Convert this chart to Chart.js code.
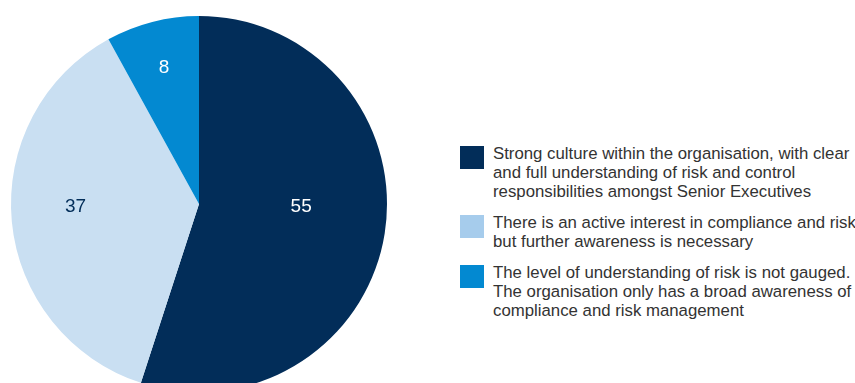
<!DOCTYPE html>
<html lang="en">
<head>
<meta charset="UTF-8">
<script src="https://cdn.jsdelivr.net/npm/chart.js"></script>
<style>
    html, body {
        margin: 0;
        padding: 0;
        width: 855px;
        height: 383px;
        overflow: hidden;
        background: #fff;
        font-family: "Liberation Sans", Arial, sans-serif;
    }

    .pie {
        position: absolute;
        left: 0;
        top: 0;
        width: 398px;
        height: 408px;
    }

    .legend {
        position: absolute;
        left: 460px;
        top: 146px;
        width: 395px;
    }

    .legend-item {
        display: flex;
        align-items: flex-start;
        margin-bottom: 14px;
    }

    .legend-box {
        width: 24px;
        height: 23px;
        flex: none;
        margin-right: 9px;
    }

    .legend-text {
        font-size: 16.8px;
        line-height: 19px;
        color: #333;
        margin-top: -2px;
        white-space: nowrap;
    }
</style>
</head>
<body>
<div class="pie"><canvas id="pieChart"></canvas></div>
<div class="legend" id="legend"></div>

<script>
    const categories = [
        ['Strong culture within the organisation, with clear', 'and full understanding of risk and control', 'responsibilities amongst Senior Executives'],
        ['There is an active interest in compliance and risk', 'but further awareness is necessary'],
        ['The level of understanding of risk is not gauged.', 'The organisation only has a broad awareness of', 'compliance and risk management']
    ];
    const values = [55, 37, 8];

    const sliceColors = ['#022d59', '#c9dff2', '#0389d1'];
    const legendColors = ['#022d59', '#a6ccec', '#0389d1'];
    const labelColors = ['#ffffff', '#022d59', '#ffffff'];
    // where each value sits: fraction of the radius along the slice's mid angle, plus a small lift
    const labelRadius = [0.55, 0.66, 0.75];
    const labelLift = [13, 9, 0];

    // values written inside each slice
    const sliceLabels = {
        id: 'sliceLabels',
        afterDatasetsDraw(chart) {
            const ctx = chart.ctx;
            const meta = chart.getDatasetMeta(0);
            ctx.save();
            ctx.font = '19px "Liberation Sans", Arial, sans-serif';
            ctx.textAlign = 'center';
            ctx.textBaseline = 'middle';
            meta.data.forEach((arc, i) => {
                const p = arc.getProps(['x', 'y', 'startAngle', 'endAngle', 'outerRadius'], true);
                const mid = (p.startAngle + p.endAngle) / 2;
                const r = p.outerRadius * labelRadius[i];
                ctx.fillStyle = labelColors[i];
                ctx.fillText(String(values[i]), p.x + Math.cos(mid) * r, p.y + Math.sin(mid) * r - labelLift[i]);
            });
            ctx.restore();
        }
    };

    new Chart(document.getElementById('pieChart'), {
        type: 'pie',
        data: {
            labels: categories.map(c => c.join(' ')),
            datasets: [{
                data: values,
                backgroundColor: sliceColors,
                borderWidth: 0
            }]
        },
        options: {
            responsive: true,
            maintainAspectRatio: false,
            animation: false,
            layout: { padding: { left: 11, right: 11, top: 16, bottom: 16 } },
            plugins: {
                legend: { display: false },
                tooltip: { enabled: false }
            }
        },
        plugins: [sliceLabels]
    });

    const legend = document.getElementById('legend');
    categories.forEach((lines, i) => {
        const item = document.createElement('div');
        item.className = 'legend-item';
        item.innerHTML = `<div class="legend-box" style="background:${legendColors[i]}"></div>` +
            `<div class="legend-text">${lines.join('<br>')}</div>`;
        legend.appendChild(item);
    });
</script>
</body>
</html>
